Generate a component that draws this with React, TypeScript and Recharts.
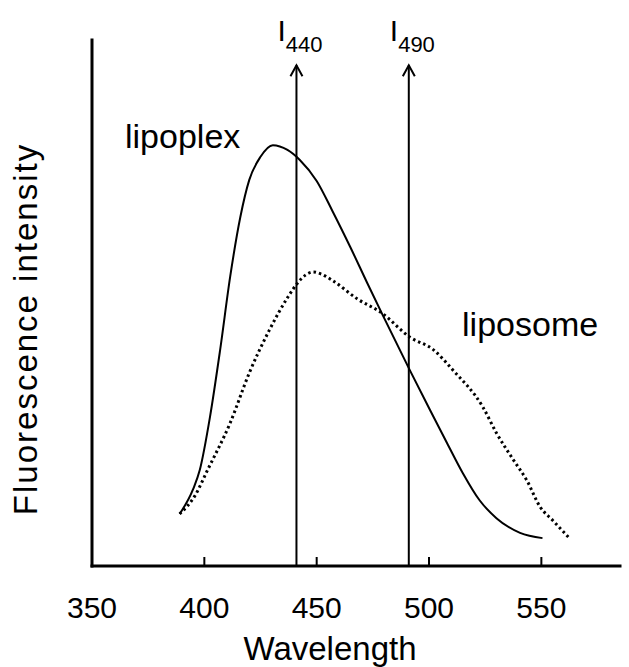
import { LineChart, Line, XAxis, YAxis, ReferenceLine, ReferenceDot, Label } from 'recharts';

document.body.style.margin = '0';

const FONT = '"Liberation Sans", Arial, Helvetica, sans-serif';

// emission spectra, intensity in arbitrary units (0-100)
const lipoplexWl = [389, 395, 398, 402.5, 407, 411.5, 416, 420, 425, 430.5, 437, 442.5, 450, 457, 465, 472.5, 479.5, 491.5, 500.5, 508, 515, 522.5, 530, 540.5, 550.5];
const lipoplexI = [9.9, 14.6, 18.3, 28.3, 41, 55, 66.3, 73.4, 77.8, 80, 79.1, 77.2, 73.2, 67.5, 60.6, 53.8, 47.6, 37.2, 29.6, 23.4, 17.7, 12.5, 9.1, 6.3, 5.3];
const liposomeWl = [389, 396, 401.5, 411.5, 420, 429, 437, 441.5, 445, 448.5, 452, 457, 468, 479, 491.5, 502, 510.5, 524, 530, 537.5, 543.5, 549.5, 555, 562];
const liposomeI = [9.9, 13.5, 18.3, 27.2, 36.7, 44.9, 51, 53.8, 55.3, 55.9, 55.5, 54.3, 50.8, 48.1, 43.5, 41.1, 37.3, 30.2, 25.3, 20.2, 16.3, 11.2, 8.7, 5.5];

const wlTicks = [350, 400, 450, 500, 550];
// I440 / I490 read-out wavelengths
const markerWl = [441, 491];
const markerNames = ['440', '490'];
const markerTop = 95.2;

const lipoplex = lipoplexWl.map((wl, i) => ({ wl, v: lipoplexI[i] }));
const liposome = liposomeWl.map((wl, i) => ({ wl, v: liposomeI[i] }));

function WlTick({ x, y, payload }: any) {
  return (
    <g>
      {payload.value > 350 && <line x1={x} x2={x} y1={y} y2={y - 9} stroke="#000" strokeWidth={2} />}
      <text x={x} y={y + 52} textAnchor="middle" fontSize={30} fontFamily={FONT} fill="#000">
        {payload.value}
      </text>
    </g>
  );
}

function arrowShape(name: string) {
  return (p: any) => {
    const x = p.x1;
    const bottom = Math.max(p.y1, p.y2);
    const top = Math.min(p.y1, p.y2);
    return (
      <g>
        <line x1={x} x2={x} y1={bottom} y2={top} stroke="#000" strokeWidth={2} />
        <polyline points={`${x - 6},${top + 11} ${x},${top} ${x + 6},${top + 11}`} fill="none" stroke="#000" strokeWidth={2} />
        <text x={x - 19} y={top - 24} fontSize={30} fontFamily={FONT} fill="#000">
          I<tspan dy={11} fontSize={22}>{name}</tspan>
        </text>
      </g>
    );
  };
}

function XTitle({ viewBox }: any) {
  return (
    <text x={viewBox.x + 238} y={viewBox.y + 94} textAnchor="middle" fontSize={33} fontFamily={FONT} fill="#000">
      Wavelength
    </text>
  );
}

function YTitle({ viewBox }: any) {
  const cx = viewBox.x + viewBox.width - 55;
  const cy = viewBox.y + 289;
  return (
    <text x={cx} y={cy} transform={`rotate(-90 ${cx} ${cy})`} textAnchor="middle" fontSize={33} letterSpacing={2} fontFamily={FONT} fill="#000">
      Fluorescence intensity
    </text>
  );
}

const curveLabel = (value: string) => ({ value, position: 'right' as const, offset: 0, fontSize: 34, fontFamily: FONT, fill: '#000' });

export default function App() {
  return (
    <LineChart width={629} height={667} margin={{ top: 40, right: 9, bottom: 0, left: 82 }}>
      <XAxis
        type="number"
        dataKey="wl"
        domain={[350, 585]}
        allowDataOverflow
        ticks={wlTicks}
        interval={0}
        height={101}
        tickSize={0}
        tickMargin={0}
        tickLine={false}
        tick={<WlTick />}
        axisLine={{ stroke: '#000', strokeWidth: 3, strokeLinecap: 'square' }}
      >
        <Label content={<XTitle />} />
      </XAxis>
      <YAxis
        type="number"
        domain={[0, 100]}
        allowDataOverflow
        width={10}
        tick={false}
        tickLine={false}
        axisLine={{ stroke: '#000', strokeWidth: 3, strokeLinecap: 'square' }}
      >
        <Label content={<YTitle />} />
      </YAxis>
      {markerWl.map((wl, i) => (
        <ReferenceLine
          key={wl}
          segment={[{ x: wl, y: 0 }, { x: wl, y: markerTop }]}
          shape={arrowShape(markerNames[i])}
        />
      ))}
      <Line data={lipoplex} dataKey="v" type="monotone" stroke="#000" strokeWidth={2} dot={false} isAnimationActive={false} />
      <Line data={liposome} dataKey="v" type="monotone" stroke="#000" strokeWidth={3} strokeDasharray="2.5 3" dot={false} isAnimationActive={false} />
      <ReferenceDot x={364.7} y={81.7} r={0} fill="none" stroke="none" label={curveLabel('lipoplex')} />
      <ReferenceDot x={514.7} y={46} r={0} fill="none" stroke="none" label={curveLabel('liposome')} />
    </LineChart>
  );
}
